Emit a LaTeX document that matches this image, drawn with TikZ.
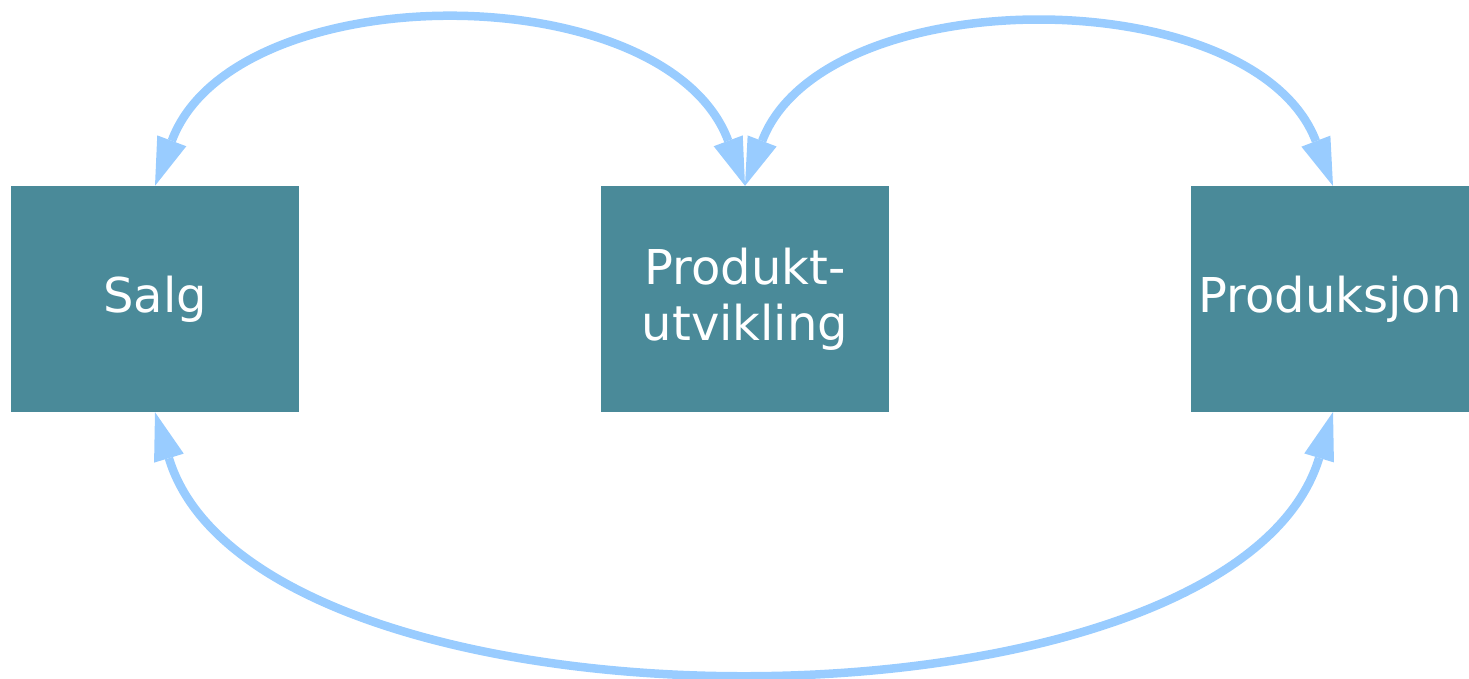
\documentclass[tikz,border=0pt]{standalone}
\usepackage{fontspec}
\setmainfont{DejaVu Sans}
\usetikzlibrary{arrows.meta}
\definecolor{boxcol}{RGB}{74,138,153}
\definecolor{arrcol}{RGB}{153,204,255}
\tikzset{
  unit/.style={fill=boxcol, draw=none, inner sep=0pt, minimum height=226pt,
    text=white, font=\fontsize{48}{56}\selectfont, align=center},
  link/.style={draw=arrcol, line width=8.5pt,
    {Triangle[length=48pt,width=31pt,line width=0pt]}-{Triangle[length=48pt,width=31pt,line width=0pt]}}
}
\begin{document}
\begin{tikzpicture}[x=1pt,y=-1pt]
\useasboundingbox (0,0) rectangle (1469,679);
\node[unit, minimum width=288pt] (salg) at (155,299) {Salg};
\node[unit, minimum width=288pt] (prod) at (745,299) {Produkt-\\utvikling};
\node[unit, minimum width=278pt] (prodsj) at (1330,299) {Produksjon};
\coordinate (pjn) at (1333,186);
\coordinate (pjs) at (1333,412);
\draw[link] (salg.north) .. controls (234,-26) and (666,-26) .. (prod.north);
\draw[link] (prod.north) .. controls (824,-21) and (1254,-21) .. (pjn);
\draw[link] (salg.south) .. controls (257,749) and (1231,749) .. (pjs);
\end{tikzpicture}
\end{document}
